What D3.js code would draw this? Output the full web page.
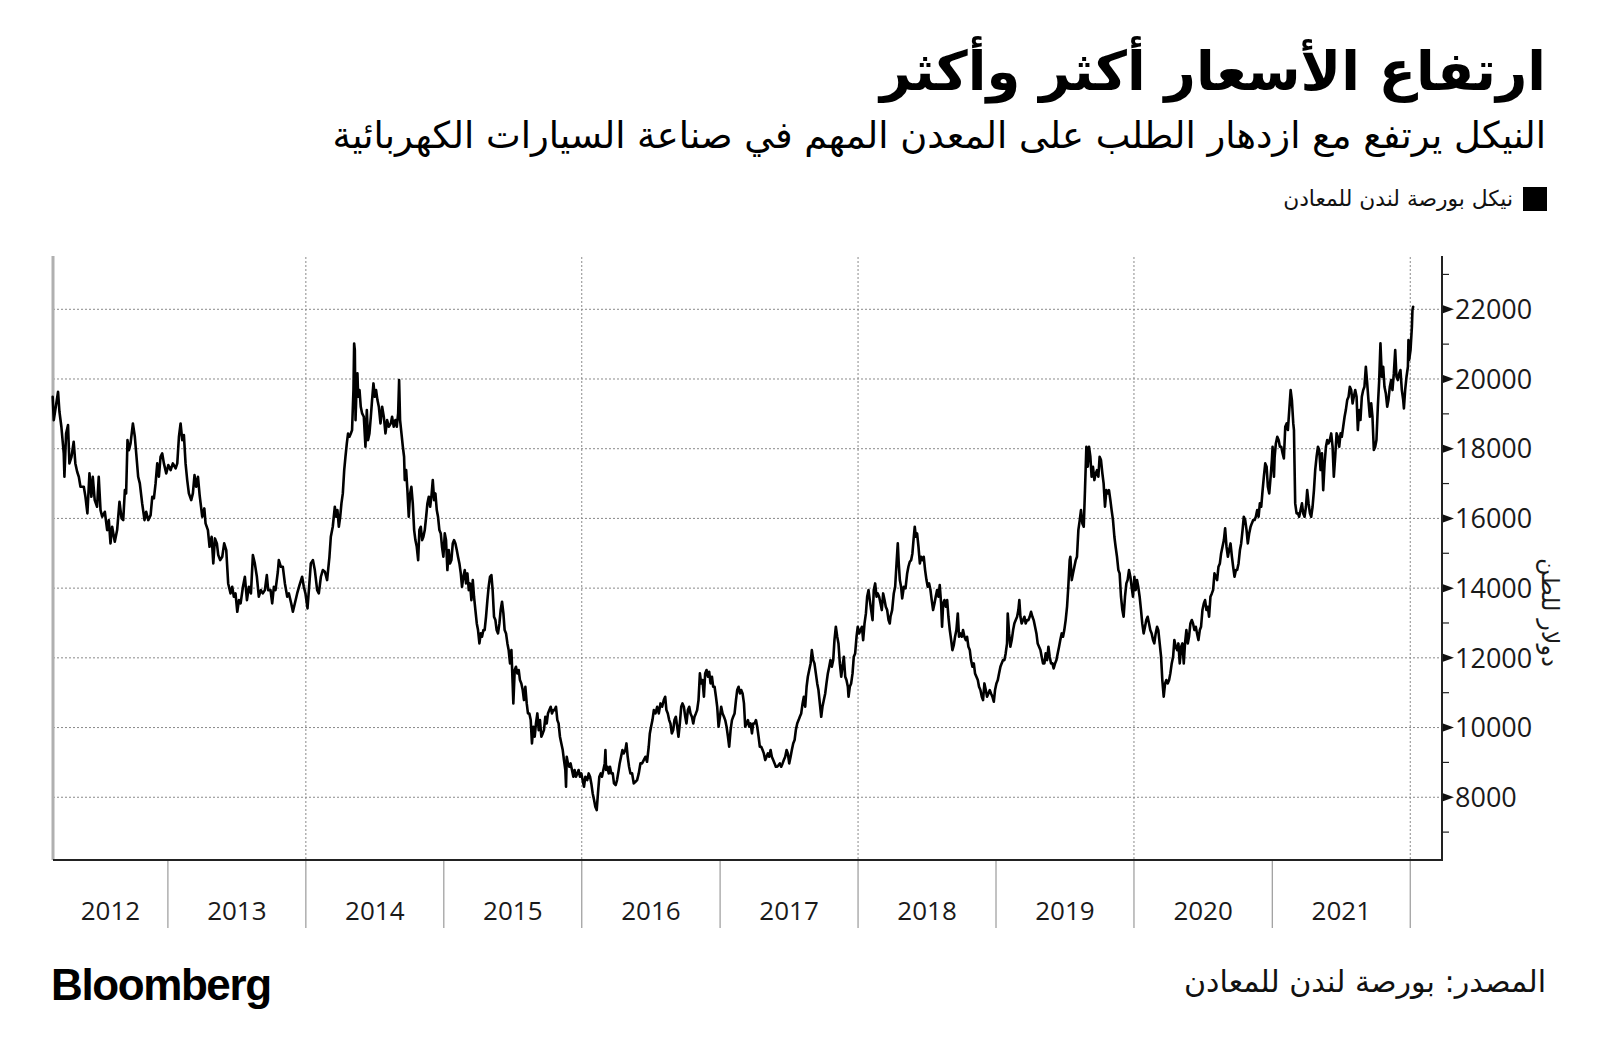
<!DOCTYPE html>
<html><head><meta charset="utf-8">
<script src="https://cdn.jsdelivr.net/npm/d3@7"></script>
<style>body{margin:0;background:#fff}svg{display:block}</style>
</head><body>
<script>
const titleText = "ارتفاع الأسعار أكثر وأكثر";
const subtitleText = "النيكل يرتفع مع ازدهار الطلب على المعدن المهم في صناعة السيارات الكهربائية";
const legendLabel = "نيكل بورصة لندن للمعادن";
const yAxisLabel = "دولار للطن";
const sourceText = "المصدر: بورصة لندن للمعادن";
const brandText = "Bloomberg";
const yearLabels = ["2012","2013","2014","2015","2016","2017","2018","2019","2020","2021"];
const yearBoundaries = ["2013","2014","2015","2016","2017","2018","2019","2020","2021","2022"];
const gridYears = ["2014","2016","2018","2020","2022"];
const yTickValues = [8000,10000,12000,14000,16000,18000,20000,22000];
const yMinorTicks = [7000,9000,11000,13000,15000,17000,19000,21000,23000];
const xDomain = ["2012-03-03","2022-03-26"];
const yDomain = [6200, 23500];

// [year fraction, USD per tonne]
const nickelPrices = [
[2012.167,19490],[2012.175,18821],[2012.206,19634],[2012.216,19060],[2012.230,18630],[2012.247,17865],[2012.252,17195],[2012.264,18438],[2012.278,18678],[2012.288,17578],[2012.303,17769],[2012.319,18199],[2012.331,17578],[2012.344,17339],[2012.356,17195],[2012.368,16908],[2012.392,16908],[2012.404,16621],[2012.418,16143],[2012.433,17291],[2012.447,16621],[2012.457,17195],[2012.471,16526],[2012.488,16335],[2012.500,17195],[2012.513,16239],[2012.525,16048],[2012.544,16191],[2012.561,15665],[2012.573,15952],[2012.585,15283],[2012.597,15761],[2012.616,15331],[2012.633,15665],[2012.650,16478],[2012.665,16000],[2012.677,15952],[2012.689,16813],[2012.698,16717],[2012.708,18247],[2012.718,17960],[2012.730,18152],[2012.747,18725],[2012.761,18343],[2012.771,17865],[2012.785,17195],[2012.797,17004],[2012.814,16430],[2012.831,15952],[2012.843,16191],[2012.858,15952],[2012.875,16095],[2012.887,16621],[2012.899,16574],[2012.911,17004],[2012.923,17578],[2012.935,17195],[2012.947,17769],[2012.959,17865],[2012.971,17578],[2012.988,17291],
[2013.003,17530],[2013.020,17387],[2013.036,17578],[2013.056,17434],[2013.068,17578],[2013.080,18343],[2013.092,18725],[2013.104,18247],[2013.116,18391],[2013.128,17578],[2013.140,17100],[2013.152,16717],[2013.169,16526],[2013.181,16717],[2013.193,17243],[2013.205,16908],[2013.218,17195],[2013.230,16669],[2013.249,16048],[2013.264,16287],[2013.273,15856],[2013.290,15665],[2013.302,15187],[2013.317,15474],[2013.329,14709],[2013.341,15426],[2013.355,15283],[2013.365,14948],[2013.379,14804],[2013.394,14900],[2013.408,15283],[2013.423,15091],[2013.437,14135],[2013.454,13848],[2013.466,14039],[2013.478,13753],[2013.490,13848],[2013.503,13322],[2013.515,13657],[2013.527,13561],[2013.544,14039],[2013.558,14326],[2013.573,13657],[2013.587,14039],[2013.602,13848],[2013.616,14948],[2013.630,14709],[2013.645,14326],[2013.659,13753],[2013.674,13944],[2013.688,13848],[2013.703,13944],[2013.717,14374],[2013.727,13944],[2013.744,13944],[2013.756,13561],[2013.768,14039],[2013.780,13944],[2013.797,14470],[2013.804,14804],[2013.819,14613],[2013.833,14613],[2013.848,14135],[2013.865,13753],[2013.877,13848],[2013.894,13561],[2013.906,13322],[2013.920,13561],[2013.937,13848],[2013.954,14087],[2013.973,14326],[2013.985,14039],[2013.997,13848],
[2014.012,13418],[2014.022,13944],[2014.036,14709],[2014.051,14804],[2014.065,14518],[2014.082,13944],[2014.094,13848],[2014.109,14326],[2014.123,14518],[2014.138,14470],[2014.154,14231],[2014.171,14900],[2014.181,15474],[2014.195,15761],[2014.210,16335],[2014.220,16048],[2014.229,16239],[2014.239,15761],[2014.249,16048],[2014.258,16430],[2014.268,16717],[2014.278,17387],[2014.287,17769],[2014.297,18152],[2014.306,18438],[2014.316,18343],[2014.326,18438],[2014.335,18534],[2014.345,19682],[2014.350,21020],[2014.355,20829],[2014.360,18821],[2014.367,19682],[2014.374,20160],[2014.379,19490],[2014.389,19682],[2014.398,19204],[2014.408,19012],[2014.420,18917],[2014.432,18056],[2014.442,19108],[2014.451,18247],[2014.461,18438],[2014.471,18917],[2014.480,19395],[2014.490,19873],[2014.500,19490],[2014.509,19682],[2014.519,19395],[2014.529,19204],[2014.541,18725],[2014.553,19204],[2014.565,18917],[2014.577,18438],[2014.589,18821],[2014.601,18630],[2014.616,18725],[2014.625,18917],[2014.637,18630],[2014.649,18821],[2014.659,18630],[2014.669,19012],[2014.676,19969],[2014.683,18821],[2014.693,18438],[2014.703,18056],[2014.712,17769],[2014.717,17100],[2014.727,17387],[2014.736,16813],[2014.746,16048],[2014.756,16717],[2014.765,16908],[2014.775,16430],[2014.785,15665],[2014.794,15378],[2014.804,15187],[2014.814,14804],[2014.823,15665],[2014.833,15761],[2014.843,15378],[2014.852,15474],[2014.862,15665],[2014.872,16048],[2014.881,16430],[2014.891,16621],[2014.901,16335],[2014.910,16621],[2014.920,17100],[2014.930,16526],[2014.939,16717],[2014.949,16239],[2014.958,16048],[2014.968,15665],[2014.978,15570],[2014.987,15187],[2014.997,14900],
[2015.007,15570],[2015.016,15378],[2015.026,14518],[2015.036,15091],[2015.045,14709],[2015.055,14804],[2015.065,15283],[2015.074,15378],[2015.084,15283],[2015.094,15091],[2015.103,14900],[2015.113,14709],[2015.123,14422],[2015.132,14039],[2015.142,14326],[2015.152,14518],[2015.161,14135],[2015.171,14422],[2015.181,13944],[2015.190,14135],[2015.200,13657],[2015.210,14231],[2015.219,13753],[2015.229,13370],[2015.239,12988],[2015.248,12796],[2015.258,12414],[2015.268,12701],[2015.277,12605],[2015.287,12796],[2015.296,12796],[2015.306,13179],[2015.316,13657],[2015.325,14039],[2015.335,14326],[2015.345,14374],[2015.354,13944],[2015.364,13179],[2015.374,13083],[2015.383,12796],[2015.393,12701],[2015.403,12988],[2015.412,13370],[2015.422,13609],[2015.432,13274],[2015.441,12796],[2015.451,12701],[2015.461,12414],[2015.470,12222],[2015.480,11840],[2015.490,12222],[2015.499,11266],[2015.504,10692],[2015.514,11649],[2015.523,11744],[2015.533,11553],[2015.543,11649],[2015.552,11362],[2015.562,11266],[2015.572,11075],[2015.581,10788],[2015.591,11170],[2015.601,10692],[2015.610,10405],[2015.620,10405],[2015.630,10214],[2015.639,9545],[2015.649,10023],[2015.659,9736],[2015.668,10119],[2015.678,10405],[2015.688,9927],[2015.697,10214],[2015.707,9736],[2015.717,9832],[2015.726,9927],[2015.736,10310],[2015.746,10119],[2015.755,10405],[2015.765,10501],[2015.775,10597],[2015.784,10405],[2015.794,10501],[2015.803,10501],[2015.813,10597],[2015.823,10214],[2015.832,10119],[2015.842,9736],[2015.852,9545],[2015.862,9353],[2015.871,9067],[2015.881,8780],[2015.886,8302],[2015.891,9162],[2015.900,8971],[2015.910,8875],[2015.919,8971],[2015.929,8780],[2015.939,8589],[2015.948,8780],[2015.958,8589],[2015.968,8684],[2015.977,8780],[2015.987,8589],[2015.997,8684],
[2016.006,8493],[2016.016,8302],[2016.026,8589],[2016.040,8493],[2016.050,8684],[2016.060,8589],[2016.069,8397],[2016.079,8110],[2016.089,7919],[2016.098,7728],[2016.108,7632],[2016.117,8110],[2016.127,8589],[2016.137,8684],[2016.146,8589],[2016.156,8780],[2016.166,8971],[2016.171,9353],[2016.176,8780],[2016.185,8875],[2016.195,8684],[2016.204,8875],[2016.214,8684],[2016.224,8684],[2016.233,8397],[2016.245,8349],[2016.255,8493],[2016.267,8780],[2016.274,8971],[2016.284,9162],[2016.294,9354],[2016.303,9258],[2016.315,9354],[2016.323,9545],[2016.332,9162],[2016.342,8875],[2016.352,8684],[2016.364,8684],[2016.376,8397],[2016.388,8445],[2016.400,8493],[2016.412,8684],[2016.424,8971],[2016.436,8971],[2016.448,9067],[2016.460,9162],[2016.472,9019],[2016.484,9449],[2016.492,9832],[2016.501,10023],[2016.511,10214],[2016.521,10501],[2016.533,10406],[2016.545,10597],[2016.557,10406],[2016.569,10692],[2016.581,10597],[2016.593,10788],[2016.603,10884],[2016.612,10501],[2016.622,10406],[2016.632,10214],[2016.641,10118],[2016.651,9832],[2016.661,9927],[2016.670,10214],[2016.680,10310],[2016.690,10023],[2016.699,9736],[2016.709,10118],[2016.719,10597],[2016.728,10692],[2016.738,10597],[2016.748,10310],[2016.757,10118],[2016.767,10501],[2016.777,10597],[2016.786,10406],[2016.796,10310],[2016.806,10118],[2016.815,10310],[2016.825,10406],[2016.834,10501],[2016.844,10788],[2016.854,11553],[2016.863,11266],[2016.873,11362],[2016.883,10884],[2016.892,11553],[2016.902,11649],[2016.912,11458],[2016.921,11601],[2016.931,11266],[2016.941,11458],[2016.950,11171],[2016.960,11171],[2016.970,10884],[2016.979,10597],[2016.989,10023],[2016.999,10310],
[2017.008,10597],[2017.018,10406],[2017.028,10310],[2017.037,10214],[2017.047,10023],[2017.057,9736],[2017.066,9449],[2017.076,9927],[2017.086,10214],[2017.095,10310],[2017.105,10406],[2017.115,10788],[2017.124,11075],[2017.134,11171],[2017.144,10979],[2017.153,11075],[2017.163,10979],[2017.173,10692],[2017.182,10023],[2017.192,10118],[2017.202,10214],[2017.211,10023],[2017.221,10118],[2017.231,9832],[2017.240,10118],[2017.250,10118],[2017.260,10214],[2017.269,10023],[2017.279,9736],[2017.288,9449],[2017.298,9449],[2017.308,9354],[2017.317,9258],[2017.327,9067],[2017.337,9162],[2017.346,9258],[2017.356,9162],[2017.366,9354],[2017.375,9162],[2017.385,9067],[2017.395,8971],[2017.404,8875],[2017.414,8875],[2017.424,8923],[2017.433,8971],[2017.443,8875],[2017.453,8971],[2017.462,9067],[2017.472,9162],[2017.482,9354],[2017.491,9258],[2017.501,8971],[2017.511,9162],[2017.520,9354],[2017.530,9545],[2017.540,9641],[2017.549,9927],[2017.559,10118],[2017.569,10214],[2017.578,10310],[2017.588,10406],[2017.598,10692],[2017.607,10884],[2017.617,10597],[2017.627,11171],[2017.636,11458],[2017.646,11649],[2017.656,11840],[2017.665,12222],[2017.675,11935],[2017.684,11840],[2017.694,11553],[2017.704,11266],[2017.713,11075],[2017.723,10692],[2017.733,10310],[2017.742,10597],[2017.752,10788],[2017.762,10979],[2017.771,11266],[2017.781,11553],[2017.791,11744],[2017.800,11935],[2017.810,11744],[2017.820,11935],[2017.829,12509],[2017.839,12892],[2017.849,12605],[2017.858,12414],[2017.868,11840],[2017.878,11458],[2017.887,11744],[2017.897,12031],[2017.907,11458],[2017.916,11362],[2017.926,11171],[2017.931,10884],[2017.940,11171],[2017.950,11266],[2017.960,11553],[2017.969,12031],[2017.979,12127],[2017.989,12605],[2017.998,12892],
[2018.008,12701],[2018.018,12796],[2018.028,12892],[2018.037,12509],[2018.047,12987],[2018.057,13274],[2018.066,13753],[2018.076,13944],[2018.085,13657],[2018.095,13370],[2018.105,13083],[2018.114,13944],[2018.124,14135],[2018.134,13753],[2018.143,13848],[2018.153,13753],[2018.163,13561],[2018.172,13370],[2018.182,13848],[2018.192,13657],[2018.201,13466],[2018.211,13370],[2018.221,13083],[2018.230,12987],[2018.235,13179],[2018.247,13370],[2018.259,13848],[2018.269,14039],[2018.279,14709],[2018.288,15283],[2018.295,14709],[2018.303,14231],[2018.312,14039],[2018.320,13705],[2018.332,14039],[2018.344,13992],[2018.356,14422],[2018.365,14613],[2018.375,14757],[2018.385,14804],[2018.394,14996],[2018.404,15474],[2018.411,15761],[2018.419,15474],[2018.428,15569],[2018.438,15187],[2018.448,14709],[2018.457,14900],[2018.467,14804],[2018.476,14900],[2018.486,14517],[2018.496,14231],[2018.505,14039],[2018.515,14135],[2018.525,13944],[2018.534,13657],[2018.544,13370],[2018.554,13561],[2018.563,13753],[2018.573,13944],[2018.583,13753],[2018.592,14087],[2018.602,13561],[2018.609,12892],[2018.617,13561],[2018.626,13657],[2018.636,13466],[2018.646,13657],[2018.655,13179],[2018.665,12796],[2018.675,12509],[2018.684,12222],[2018.694,12366],[2018.703,12605],[2018.713,12796],[2018.723,13274],[2018.732,12605],[2018.742,12701],[2018.752,12605],[2018.761,12796],[2018.771,12605],[2018.781,12509],[2018.790,12605],[2018.800,12318],[2018.810,12222],[2018.819,11935],[2018.829,11744],[2018.839,11840],[2018.848,11553],[2018.858,11457],[2018.868,11362],[2018.877,11170],[2018.887,11075],[2018.897,10884],[2018.906,10788],[2018.916,11266],[2018.926,11075],[2018.935,10884],[2018.945,10979],[2018.955,11075],[2018.964,10979],[2018.974,10884],[2018.984,10740],[2018.993,11075],
[2019.003,11266],[2019.013,11362],[2019.022,11553],[2019.032,11744],[2019.041,11840],[2019.051,11935],[2019.061,11935],[2019.070,12127],[2019.080,12414],[2019.085,13274],[2019.095,12700],[2019.104,12318],[2019.114,12509],[2019.124,12796],[2019.133,12987],[2019.143,13083],[2019.153,13179],[2019.162,13370],[2019.169,13657],[2019.177,13179],[2019.186,12987],[2019.196,13083],[2019.206,13179],[2019.215,12987],[2019.225,13083],[2019.235,13083],[2019.244,13179],[2019.254,13322],[2019.264,13179],[2019.273,13083],[2019.283,12892],[2019.293,12700],[2019.302,12414],[2019.312,12318],[2019.322,12222],[2019.331,12031],[2019.341,11840],[2019.351,11840],[2019.360,12127],[2019.370,11935],[2019.380,12318],[2019.389,12031],[2019.399,11840],[2019.409,11840],[2019.418,11697],[2019.428,11840],[2019.438,11935],[2019.447,12127],[2019.457,12318],[2019.466,12509],[2019.476,12700],[2019.486,12605],[2019.495,12796],[2019.505,13083],[2019.515,13466],[2019.524,14039],[2019.534,14804],[2019.539,14900],[2019.549,14231],[2019.558,14422],[2019.568,14613],[2019.578,14804],[2019.587,14900],[2019.597,15665],[2019.607,15952],[2019.616,16239],[2019.626,15856],[2019.636,15761],[2019.645,16813],[2019.655,18056],[2019.665,17482],[2019.674,18056],[2019.684,17769],[2019.693,17195],[2019.703,17482],[2019.713,17100],[2019.723,17291],[2019.732,17386],[2019.742,17195],[2019.751,17769],[2019.761,17673],[2019.771,17291],[2019.780,17004],[2019.790,16335],[2019.800,16813],[2019.809,16717],[2019.819,16813],[2019.829,16526],[2019.838,16239],[2019.848,15952],[2019.858,15474],[2019.867,15187],[2019.877,14900],[2019.887,14517],[2019.896,14422],[2019.906,13753],[2019.916,13370],[2019.925,13179],[2019.935,13753],[2019.945,14135],[2019.954,14231],[2019.964,14517],[2019.974,14326],[2019.983,14039],[2019.993,13753],
[2020.003,14326],[2020.012,13944],[2020.022,14231],[2020.031,14039],[2020.041,13753],[2020.051,13370],[2020.060,12987],[2020.070,12700],[2020.080,12892],[2020.089,13083],[2020.099,13179],[2020.109,12987],[2020.118,12796],[2020.128,12700],[2020.138,12509],[2020.147,12414],[2020.157,12700],[2020.167,12892],[2020.176,12796],[2020.186,12414],[2020.196,12031],[2020.205,11362],[2020.215,10884],[2020.225,11266],[2020.234,11362],[2020.244,11266],[2020.254,11362],[2020.263,11554],[2020.273,11840],[2020.283,12032],[2020.292,12510],[2020.302,12319],[2020.312,12223],[2020.321,12414],[2020.331,11840],[2020.341,12319],[2020.350,12414],[2020.360,11840],[2020.369,12414],[2020.379,12797],[2020.389,12414],[2020.398,12605],[2020.408,12988],[2020.418,13084],[2020.427,12988],[2020.437,12797],[2020.447,12892],[2020.456,12701],[2020.466,12510],[2020.476,12797],[2020.485,12892],[2020.495,13371],[2020.505,13562],[2020.514,13657],[2020.524,13371],[2020.534,13466],[2020.543,13179],[2020.553,13753],[2020.563,13849],[2020.572,13944],[2020.582,14422],[2020.592,14327],[2020.601,14231],[2020.611,14614],[2020.621,14709],[2020.630,14996],[2020.640,15188],[2020.650,15379],[2020.659,15714],[2020.669,15188],[2020.679,14901],[2020.688,15092],[2020.698,15283],[2020.708,14901],[2020.717,14614],[2020.727,14327],[2020.737,14518],[2020.746,14518],[2020.756,14709],[2020.766,15092],[2020.775,15283],[2020.785,15666],[2020.794,16048],[2020.804,15953],[2020.814,15666],[2020.823,15283],[2020.833,15570],[2020.843,15761],[2020.852,15857],[2020.862,15953],[2020.872,15953],[2020.881,16048],[2020.891,16239],[2020.901,16048],[2020.910,16431],[2020.920,16335],[2020.930,16813],[2020.939,17196],[2020.949,17578],[2020.959,17483],[2020.968,16909],[2020.978,16718],[2020.988,17196],[2020.997,17674],
[2021.002,18056],[2021.012,17196],[2021.017,17769],[2021.026,18152],[2021.036,18343],[2021.046,18248],[2021.055,18056],[2021.065,18056],[2021.075,17865],[2021.084,17722],[2021.094,18630],[2021.104,18726],[2021.113,18535],[2021.123,19108],[2021.133,19682],[2021.142,19395],[2021.152,18726],[2021.157,18535],[2021.161,17578],[2021.166,16431],[2021.176,16144],[2021.186,16144],[2021.195,16048],[2021.205,16239],[2021.215,16431],[2021.224,16144],[2021.234,16048],[2021.244,16335],[2021.253,16813],[2021.263,16431],[2021.273,16144],[2021.282,16048],[2021.292,16335],[2021.302,16813],[2021.311,17387],[2021.321,17769],[2021.331,18056],[2021.340,17961],[2021.350,17387],[2021.360,17865],[2021.369,16813],[2021.379,17578],[2021.389,18056],[2021.398,18248],[2021.408,18152],[2021.417,18248],[2021.427,18439],[2021.437,18056],[2021.446,17196],[2021.456,17769],[2021.466,18439],[2021.475,18343],[2021.485,18056],[2021.495,18439],[2021.504,18343],[2021.514,18630],[2021.524,18917],[2021.533,19108],[2021.543,19395],[2021.553,19491],[2021.562,19778],[2021.572,19682],[2021.582,19300],[2021.591,19491],[2021.601,19682],[2021.611,19491],[2021.620,18535],[2021.630,19108],[2021.639,18822],[2021.649,19491],[2021.659,19682],[2021.668,19778],[2021.678,20352],[2021.688,19873],[2021.697,19395],[2021.707,18917],[2021.717,19300],[2021.726,18917],[2021.736,17961],[2021.746,18056],[2021.755,18248],[2021.765,19204],[2021.775,19969],[2021.784,21021],[2021.794,20065],[2021.804,20352],[2021.813,19778],[2021.823,19587],[2021.833,19204],[2021.842,19395],[2021.852,19778],[2021.862,19969],[2021.871,19682],[2021.881,20160],[2021.891,20830],[2021.900,20065],[2021.910,19969],[2021.920,20160],[2021.929,20256],[2021.939,19682],[2021.949,19395],[2021.954,19156],[2021.963,19682],[2021.973,20065],[2021.983,20352],[2021.987,21117],[2021.992,20543],
[2022.002,20830],[2022.012,21499],[2022.016,21977],[2022.021,22073]
];

const W = 1600, H = 1064;
const plot = {left: 53, right: 1442, top: 257, bottom: 860};
const arabicFont = "'DejaVu Sans', 'Noto Sans', sans-serif";
const numFont = "'Open Sans', 'Noto Sans', sans-serif";

function fracToDate(f) {
  const y = Math.floor(f);
  const a = Date.UTC(y, 0, 1), b = Date.UTC(y + 1, 0, 1);
  return new Date(a + (f - y) * (b - a));
}
const parse = s => new Date(s.length === 4 ? s + "-01-01T00:00:00Z" : s + "T00:00:00Z");

const data = nickelPrices.map(([f, v]) => ({date: fracToDate(f), value: v}));

const x = d3.scaleUtc().domain(xDomain.map(parse)).range([plot.left, plot.right]);
const y = d3.scaleLinear().domain(yDomain).range([plot.bottom, plot.top]);

const svg = d3.select("body").append("svg").attr("width", W).attr("height", H);
svg.append("rect").attr("width", W).attr("height", H).attr("fill", "#fff");

function fitWidth(sel, target) {
  const n = sel.node();
  const w = n.getComputedTextLength();
  if (w > 0) {
    const fs = parseFloat(sel.attr("font-size"));
    sel.attr("font-size", (fs * target / w).toFixed(2));
  }
}

// Title
const t = svg.append("text").attr("x", 1546).attr("y", 90)
  .attr("direction", "rtl").attr("text-anchor", "start")
  .attr("font-family", arabicFont).attr("font-weight", "bold").attr("font-size", 60)
  .attr("fill", "#000").text(titleText);
fitWidth(t, 666);
const st = svg.append("text").attr("x", 1546).attr("y", 148)
  .attr("direction", "rtl").attr("text-anchor", "start")
  .attr("font-family", arabicFont).attr("font-size", 36)
  .attr("fill", "#000").text(subtitleText);
fitWidth(st, 1214);

// Legend
svg.append("rect").attr("x", 1523).attr("y", 187).attr("width", 24).attr("height", 24).attr("fill", "#000");
const lg = svg.append("text").attr("x", 1513).attr("y", 206)
  .attr("direction", "rtl").attr("text-anchor", "start")
  .attr("font-family", arabicFont).attr("font-size", 20)
  .attr("fill", "#111").text(legendLabel);
fitWidth(lg, 230);

// Horizontal gridlines
svg.append("g").selectAll("line").data(yTickValues).join("line")
  .attr("x1", plot.left).attr("x2", plot.right)
  .attr("y1", d => y(d)).attr("y2", d => y(d))
  .attr("stroke", "#8a8a8a").attr("stroke-width", 1).attr("stroke-dasharray", "2,2");

// Vertical gridlines (every 2 years)
svg.append("g").selectAll("line").data(gridYears).join("line")
  .attr("x1", d => x(parse(d))).attr("x2", d => x(parse(d)))
  .attr("y1", plot.top).attr("y2", plot.bottom)
  .attr("stroke", "#8a8a8a").attr("stroke-width", 1).attr("stroke-dasharray", "2,2");

// Year separators below axis
svg.append("g").selectAll("line").data(yearBoundaries).join("line")
  .attr("x1", d => x(parse(d))).attr("x2", d => x(parse(d)))
  .attr("y1", plot.bottom).attr("y2", 928)
  .attr("stroke", "#9a9a9a").attr("stroke-width", 1.2);

// Year labels centred between boundaries
svg.append("g").selectAll("text").data(yearLabels).join("text")
  .attr("x", d => {
    const a = Math.max(x(parse(d)), plot.left);
    const b = x(parse(String(+d + 1)));
    return (a + b) / 2;
  })
  .attr("y", 920).attr("text-anchor", "middle")
  .attr("font-family", numFont).attr("font-size", 26).attr("fill", "#1a1a1a")
  .text(d => d);

// Left border
svg.append("line").attr("x1", plot.left).attr("x2", plot.left).attr("y1", plot.top - 1).attr("y2", plot.bottom)
  .attr("stroke", "#b0b0b0").attr("stroke-width", 3);

// Price line
svg.append("path").datum(data)
  .attr("d", d3.line().x(d => x(d.date)).y(d => y(d.value)))
  .attr("fill", "none").attr("stroke", "#000").attr("stroke-width", 2.6)
  .attr("stroke-linejoin", "round").attr("stroke-linecap", "round");

// Bottom axis line & right axis line
svg.append("line").attr("x1", plot.left).attr("x2", plot.right).attr("y1", plot.bottom).attr("y2", plot.bottom)
  .attr("stroke", "#222").attr("stroke-width", 2);
svg.append("line").attr("x1", plot.right).attr("x2", plot.right).attr("y1", plot.top - 1).attr("y2", plot.bottom + 1)
  .attr("stroke", "#222").attr("stroke-width", 2);

// Minor ticks
svg.append("g").selectAll("line").data(yMinorTicks).join("line")
  .attr("x1", plot.right).attr("x2", plot.right + 7)
  .attr("y1", d => y(d)).attr("y2", d => y(d))
  .attr("stroke", "#222").attr("stroke-width", 1.2);

// Major tick triangles and labels
const yt = svg.append("g").selectAll("g").data(yTickValues).join("g")
  .attr("transform", d => `translate(${plot.right},${y(d)})`);
yt.append("path").attr("d", "M1,-4 L12,0 L1,4 Z").attr("fill", "#111");
yt.append("text").attr("x", 13).attr("y", 0).attr("dy", "0.36em")
  .attr("font-family", numFont).attr("font-size", 27).attr("fill", "#1a1a1a")
  .text(d => d);

// Y axis title (rotated)
const yl = svg.append("text")
  .attr("transform", `translate(1550,${y(13300)}) rotate(90)`)
  .attr("text-anchor", "middle").attr("dy", "0.35em")
  .attr("font-family", arabicFont).attr("font-size", 22).attr("fill", "#1a1a1a")
  .text(yAxisLabel);
fitWidth(yl, 109);

// Footer
svg.append("text").attr("x", 51).attr("y", 1000)
  .attr("font-family", "'Liberation Sans', Arial, sans-serif").attr("font-weight", "bold")
  .attr("font-size", 44).attr("letter-spacing", -1.4).attr("fill", "#000").text(brandText);
const src = svg.append("text").attr("x", 1546).attr("y", 992)
  .attr("direction", "rtl").attr("text-anchor", "start")
  .attr("font-family", arabicFont).attr("font-size", 28).attr("fill", "#111").text(sourceText);
fitWidth(src, 362);
</script>
</body></html>
